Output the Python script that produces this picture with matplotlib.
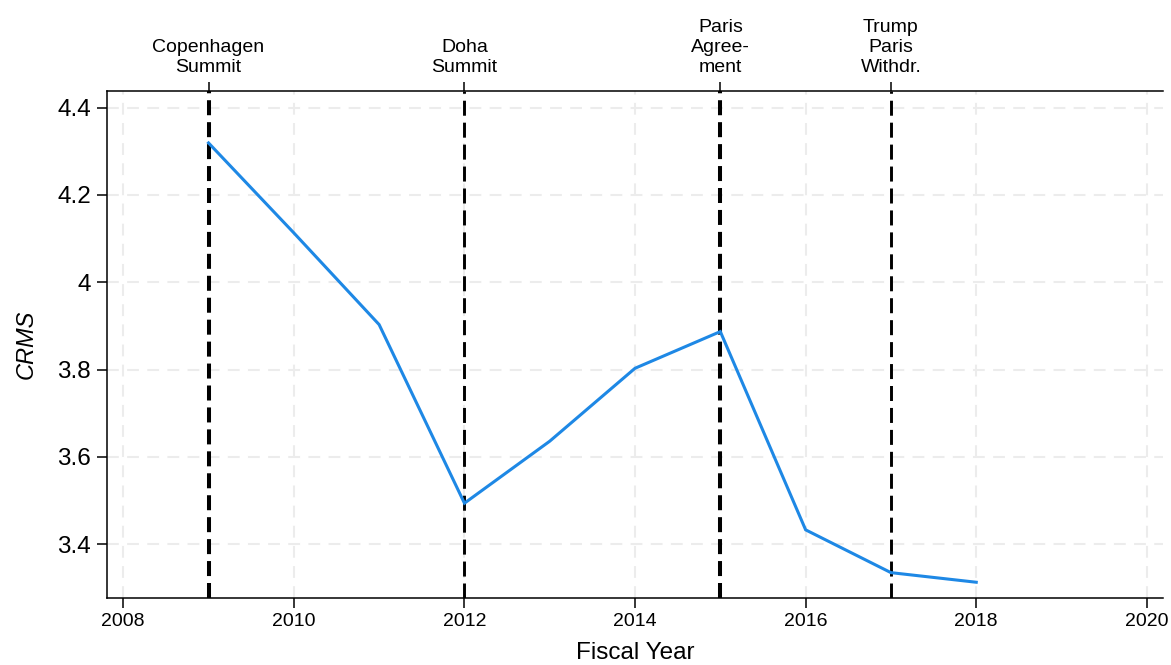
import matplotlib
matplotlib.use("Agg")
import matplotlib.pyplot as plt

plt.rcParams['font.family'] = ['Liberation Sans', 'DejaVu Sans']
plt.rcParams['lines.scale_dashes'] = False

years = [2009, 2010, 2011, 2012, 2013, 2014, 2015, 2016, 2017, 2018]
crms = [4.319, 4.113, 3.903, 3.494, 3.636, 3.803, 3.887, 3.433, 3.335, 3.313]

event_years = [2009, 2012, 2015, 2017]
event_labels = ["Copenhagen\nSummit", "Doha\nSummit", "Paris\nAgree-\nment", "Trump\nParis\nWithdr."]
event_widths = [2.9, 2.1, 2.9, 2.1]

x_ticks = [2008, 2010, 2012, 2014, 2016, 2018, 2020]
y_ticks = [3.4, 3.6, 3.8, 4.0, 4.2, 4.4]
y_ticklabels = ["3.4", "3.6", "3.8", "4", "4.2", "4.4"]

fig = plt.figure(figsize=(11.71, 6.65), dpi=100)
ax = fig.add_axes([0.0914, 0.1008, 0.9018, 0.7624])

ax.set_xlim(2007.81, 2020.19)
ax.set_ylim(3.277, 4.438)

ax.set_xticks(x_ticks)
ax.set_yticks(y_ticks)
ax.set_yticklabels(y_ticklabels)

ax.grid(True, color='#ececec', linestyle=(0, (8.5, 6)), linewidth=1.5, zorder=0)
ax.set_axisbelow(True)

for yr, w in zip(event_years, event_widths):
    ax.axvline(yr, color='black', linewidth=w, linestyle=(0, (10.8, 5)), zorder=2)

ax.plot(years, crms, color='#1E88E5', linewidth=2.2, zorder=3, solid_joinstyle='miter')

for s in ['left', 'bottom', 'top']:
    ax.spines[s].set_linewidth(1.1)
ax.spines['right'].set_visible(False)

ax.tick_params(axis='x', labelsize=14, length=7.5, width=1.1, pad=3)
ax.tick_params(axis='y', labelsize=17.5, length=7.5, width=1.1, pad=4)

sec = ax.secondary_xaxis('top')
sec.set_xticks(event_years)
sec.set_xticklabels(event_labels, fontsize=14, linespacing=1.25)
sec.tick_params(axis='x', length=6.5, width=1.1, pad=4)
sec.spines['top'].set_visible(False)

ax.set_xlabel("Fiscal Year", fontsize=17.5, labelpad=9)
ax.set_ylabel("CRMS", fontsize=17, fontstyle='italic', labelpad=14)

fig.savefig("out.png", dpi=100)
